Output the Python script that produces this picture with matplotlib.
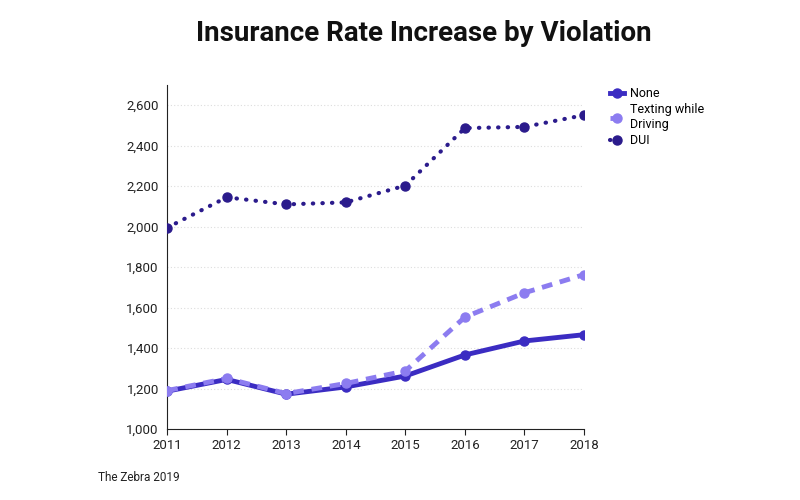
import matplotlib
matplotlib.use("Agg")
import matplotlib.pyplot as plt
from matplotlib.ticker import FuncFormatter

plt.rcParams['font.family'] = ['Roboto', 'DejaVu Sans']

years = [2011, 2012, 2013, 2014, 2015, 2016, 2017, 2018]
none_rate = [1187, 1245, 1172, 1208, 1262, 1366, 1435, 1466]
texting_rate = [1190, 1250, 1175, 1225, 1287, 1553, 1673, 1763]
dui_rate = [1995, 2145, 2110, 2120, 2203, 2487, 2493, 2551]

c_none = '#3b2cc2'
c_text = '#8c7cf0'
c_dui = '#2b1b8c'

fig = plt.figure(figsize=(8, 5), dpi=100)
ax = fig.add_axes([0.209, 0.142, 0.521, 0.688])

ax.plot(years, dui_rate, color=c_dui, lw=3, ls=(0, (0.1, 2.2)), dash_capstyle='round',
        marker='o', ms=6.5, label='DUI', zorder=3)
ax.plot(years, none_rate, color=c_none, lw=3.5, marker='o', ms=6.5, label='None', zorder=4)
ax.plot(years, texting_rate, color=c_text, lw=3.5, ls=(0, (2.2, 1.6)),
        marker='o', ms=6.5, label='Texting while\nDriving', zorder=5)

ax.set_xlim(2011, 2018)
ax.set_ylim(1000, 2700)
ax.set_xticks(years)
ax.set_yticks(range(1000, 2700, 200))
ax.yaxis.set_major_formatter(FuncFormatter(lambda v, p: f'{int(v):,}'))
ax.grid(axis='y', color='#dddddd', ls=(0, (1, 2)), lw=0.8)
ax.set_axisbelow(True)
for s in ['top', 'right']:
    ax.spines[s].set_visible(False)
ax.spines['left'].set_color('#222222')
ax.spines['bottom'].set_color('#222222')
ax.tick_params(axis='y', length=0, pad=6, labelsize=9.5, colors='#222222')
ax.tick_params(axis='x', length=4, labelsize=9.5, colors='#222222')

h, l = ax.get_legend_handles_labels()
order = [1, 2, 0]
leg = fig.legend([h[i] for i in order], [l[i] for i in order], loc='upper left',
                 bbox_to_anchor=(0.763, 0.826), frameon=False, fontsize=9,
                 handlelength=1.1, handletextpad=0.5, labelspacing=0.25,
                 borderpad=0, borderaxespad=0)

fig.text(0.53, 0.933, 'Insurance Rate Increase by Violation', ha='center', va='center',
         fontsize=20, fontweight='bold', color='#111111')
fig.text(0.123, 0.045, 'The Zebra 2019', ha='left', va='center', fontsize=8.5, color='#222222')

fig.savefig('out.png', dpi=100)
